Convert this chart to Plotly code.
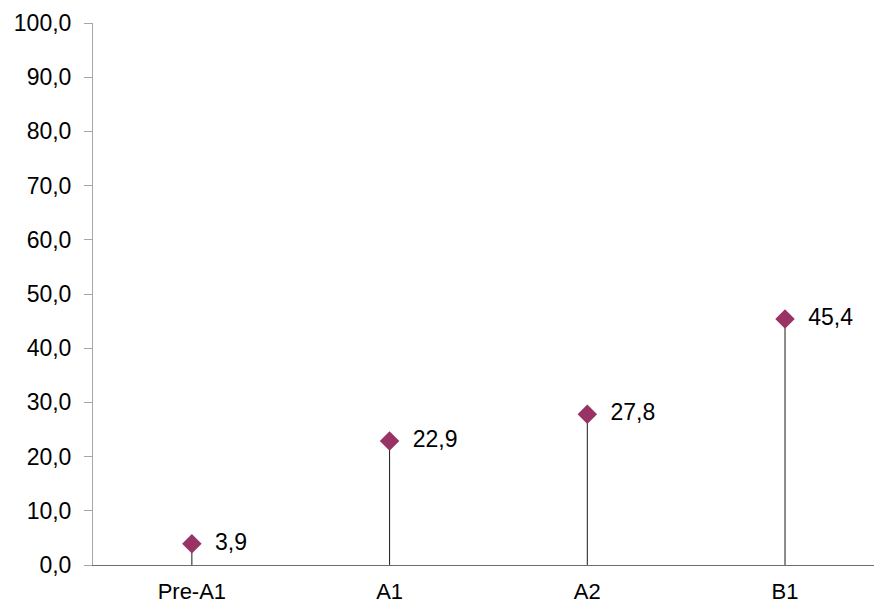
import plotly.graph_objects as go

categories = ["Pre-A1", "A1", "A2", "B1"]
values = [3.9, 22.9, 27.8, 45.4]
labels = ["3,9", "22,9", "27,8", "45,4"]
y_ticks = [0, 10, 20, 30, 40, 50, 60, 70, 80, 90, 100]

stem_x, stem_y = [], []
for c, v in zip(categories, values):
    stem_x += [c, c, None]
    stem_y += [0, v, None]

FONT = "Liberation Sans, Arial, sans-serif"

fig = go.Figure()
fig.add_trace(go.Scatter(
    x=stem_x, y=stem_y, mode="lines",
    line=dict(color="#1a1a1a", width=1), hoverinfo="skip", showlegend=False,
))
fig.add_trace(go.Scatter(
    x=categories, y=values, mode="markers+text",
    marker=dict(symbol="diamond", size=15, color="#993366"),
    text=["  " + t for t in labels], textposition="middle right",
    textfont=dict(family=FONT, size=23, color="black"),
    showlegend=False,
))

fig.update_layout(
    width=874, height=603,
    margin=dict(l=93, r=0, t=23, b=38, autoexpand=False),
    paper_bgcolor="white", plot_bgcolor="white",
    separators=",.",
    font=dict(family=FONT, size=23, color="black"),
    xaxis=dict(
        type="category", categoryorder="array", categoryarray=categories,
        range=[-0.5, 3.45], showgrid=False, zeroline=False, automargin=False,
        showline=True, linecolor="#6e6e6e", linewidth=1, ticks="",
        ticklabelstandoff=7,
        tickfont=dict(family=FONT, size=22, color="black"),
    ),
    yaxis=dict(
        range=[0, 100], tickvals=y_ticks, tickformat=".1f",
        showgrid=False, zeroline=False, automargin=False,
        showline=True, linecolor="#a6a6a6", linewidth=1,
        ticks="outside", ticklen=8, tickcolor="#a6a6a6",
        ticklabelstandoff=8,
        tickfont=dict(family=FONT, size=23, color="black"),
    ),
)

fig.write_html(
    "out.html",
    config={"displayModeBar": False},
    post_script="document.body.style.margin='0px';"
                "document.documentElement.style.overflow='hidden';"
                "document.body.style.overflow='hidden';",
)
